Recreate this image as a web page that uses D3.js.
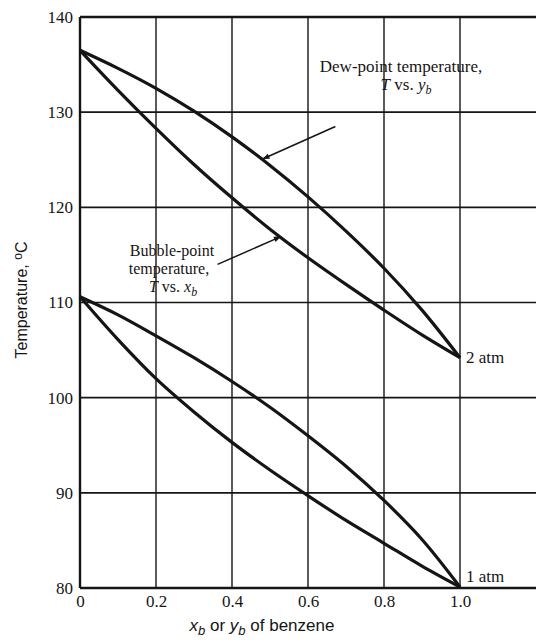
<!DOCTYPE html>
<html><head><meta charset="utf-8">
<script src="https://cdn.jsdelivr.net/npm/d3@7"></script>
<style>body{margin:0;background:#fff}</style>
</head><body>
<svg id="c" width="536" height="643"></svg>
<script>
const xs = [0, 0.1, 0.2, 0.3, 0.4, 0.5, 0.6, 0.7, 0.8, 0.9, 1.0];
const bubble1 = [110.6, 106.1, 102.0, 98.5, 95.3, 92.4, 89.7, 87.1, 84.7, 82.3, 80.1];
const dew1    = [110.6, 108.7, 106.5, 104.2, 101.7, 99.0, 96.0, 92.8, 89.2, 85.1, 80.1];
const bubble2 = [136.5, 132.3, 128.3, 124.5, 121.0, 117.7, 114.7, 111.9, 109.2, 106.6, 104.2];
const dew2    = [136.5, 134.6, 132.5, 130.1, 127.4, 124.4, 121.1, 117.5, 113.6, 109.2, 104.2];
const xTicks = [0, 0.2, 0.4, 0.6, 0.8, 1.0];
const xTickLabels = ["0", "0.2", "0.4", "0.6", "0.8", "1.0"];
const yTicks = [80, 90, 100, 110, 120, 130, 140];

const svg = d3.select("#c");
const x = d3.scaleLinear().domain([0, 1.2]).range([80, 536]);
const y = d3.scaleLinear().domain([80, 140]).range([588, 17]);
const ink = "#151515";

// horizontal grid
svg.append("g").selectAll("line").data(yTicks).join("line")
  .attr("x1", x(0)).attr("x2", x(1.2)).attr("y1", d => y(d)).attr("y2", d => y(d))
  .attr("stroke", ink).attr("stroke-width", d => (d === 80 || d === 140) ? 2.4 : 1.6);
// vertical grid
svg.append("g").selectAll("line").data(xTicks).join("line")
  .attr("x1", d => x(d)).attr("x2", d => x(d)).attr("y1", y(80)).attr("y2", y(140))
  .attr("stroke", ink).attr("stroke-width", d => d === 0 ? 2.4 : 1.4);

const serif = "Liberation Serif, serif";
const yAxis = d3.axisLeft(y).tickValues(yTicks).tickSize(0).tickPadding(7);
const gy = svg.append("g").attr("transform", `translate(${x(0)},0)`).call(yAxis);
gy.select(".domain").remove();
gy.selectAll("text").attr("font-family", serif).attr("font-size", 17).attr("fill", ink);

const xAxis = d3.axisBottom(x).tickValues(xTicks).tickFormat((d, i) => xTickLabels[i]).tickSize(0).tickPadding(7);
const gx = svg.append("g").attr("transform", `translate(0,${y(80)})`).call(xAxis);
gx.select(".domain").remove();
gx.selectAll("text").attr("font-family", serif).attr("font-size", 17).attr("fill", ink);

// curves
const line = d3.line().x(d => x(d[0])).y(d => y(d[1])).curve(d3.curveCatmullRom.alpha(0.5));
[bubble1, dew1, bubble2, dew2].forEach(s => {
  svg.append("path").datum(xs.map((v, i) => [v, s[i]]))
    .attr("d", line).attr("fill", "none").attr("stroke", ink).attr("stroke-width", 3.2)
    .attr("stroke-linejoin", "round");
});

// arrows
svg.append("defs").append("marker").attr("id", "ah").attr("viewBox", "0 0 10 10")
  .attr("refX", 9).attr("refY", 5).attr("markerWidth", 10).attr("markerHeight", 7)
  .attr("markerUnits", "userSpaceOnUse").attr("orient", "auto")
  .append("path").attr("d", "M0,1 L10,5 L0,9 Z").attr("fill", ink);
function arrow(x1, y1, x2, y2) {
  svg.append("line").attr("x1", x(x1)).attr("y1", y(y1)).attr("x2", x(x2)).attr("y2", y(y2))
    .attr("stroke", ink).attr("stroke-width", 1.5).attr("marker-end", "url(#ah)");
}
arrow(0.672, 128.5, 0.482, 125.1);
arrow(0.362, 114.0, 0.527, 116.9);

function label(px, py, parts, anchor, fs) {
  const t = svg.append("text").attr("x", px).attr("y", py).attr("font-family", serif)
    .attr("font-size", fs || 17).attr("fill", ink).attr("text-anchor", anchor || "middle");
  parts.forEach(p => {
    const ts = t.append("tspan").text(p.t);
    if (p.i) ts.attr("font-style", "italic");
    if (p.sub) ts.attr("baseline-shift", "-30%").attr("font-size", 12);
  });
  return t;
}
label(401, 72, [{t: "Dew-point temperature,"}]);
label(406, 90, [{t: "T", i: 1}, {t: " vs. "}, {t: "y", i: 1}, {t: "b", i: 1, sub: 1}]);
label(172, 256, [{t: "Bubble-point"}], "middle", 16);
label(169, 274, [{t: "temperature,"}], "middle", 16);
label(173, 292, [{t: "T", i: 1}, {t: " vs. "}, {t: "x", i: 1}, {t: "b", i: 1, sub: 1}], "middle", 16);
label(x(1.0) + 6, y(104.2) + 5, [{t: "2 atm"}], "start");
label(x(1.0) + 6, y(80) - 6, [{t: "1 atm"}], "start");

// axis titles
const sans = "Liberation Sans, Arial, sans-serif";
const yt = svg.append("text").attr("transform", "translate(27,300) rotate(-90)")
  .attr("text-anchor", "middle").attr("font-family", sans).attr("font-size", 16).attr("fill", ink);
yt.append("tspan").text("Temperature, ");
yt.append("tspan").text("o").attr("baseline-shift", "45%").attr("font-size", 12);
yt.append("tspan").text("C");

const xt = svg.append("text").attr("x", 262).attr("y", 631).attr("text-anchor", "middle")
  .attr("font-family", sans).attr("font-size", 17).attr("fill", ink);
xt.append("tspan").text("x").attr("font-style", "italic");
xt.append("tspan").text("b").attr("font-style", "italic").attr("baseline-shift", "-30%").attr("font-size", 13);
xt.append("tspan").text(" or ");
xt.append("tspan").text("y").attr("font-style", "italic");
xt.append("tspan").text("b").attr("font-style", "italic").attr("baseline-shift", "-30%").attr("font-size", 13);
xt.append("tspan").text(" of benzene");
</script>
</body></html>
